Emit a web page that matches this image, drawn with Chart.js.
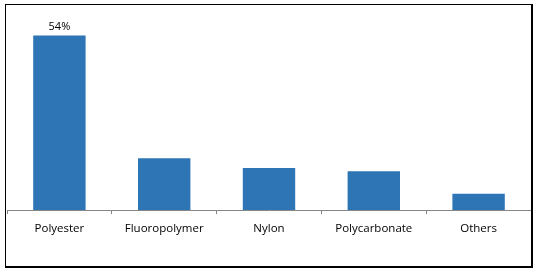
<!DOCTYPE html>
<html>
<head>
<meta charset="utf-8">
<script src="https://cdn.jsdelivr.net/npm/chart.js@4/dist/chart.umd.min.js"></script>
<style>
  html, body { margin: 0; padding: 0; background: #fff; }
  #wrap { position: relative; width: 538px; height: 272px; }
  #chart { position: absolute; left: 0; top: 0; }
  #frame {
    position: absolute; left: 5px; top: 4px; width: 525px; height: 261px;
    border-left: 1px solid #000; border-top: 1px solid #000;
    border-right: 2px solid #000; border-bottom: 2px solid #000;
    pointer-events: none;
  }
</style>
</head>
<body>
<div id="wrap">
  <canvas id="chart" width="538" height="272"></canvas>
  <div id="frame"></div>
</div>
<script>
const categories = ['Polyester', 'Fluoropolymer', 'Nylon', 'Polycarbonate', 'Others'];
const shares = [54, 16, 13, 12, 5];
const dataLabels = ['54%', '', '', '', ''];

const FONT = '"Open Sans", "DejaVu Sans", sans-serif';

// draws the single value label above the first bar
const valueLabels = {
  id: 'valueLabels',
  afterDatasetsDraw(chart) {
    const { ctx } = chart;
    const meta = chart.getDatasetMeta(0);
    ctx.save();
    ctx.font = `11px ${FONT}`;
    ctx.fillStyle = '#000';
    ctx.textAlign = 'center';
    ctx.textBaseline = 'bottom';
    meta.data.forEach((bar, i) => {
      if (!dataLabels[i]) return;
      ctx.fillText(dataLabels[i], bar.x, bar.y - 3);
    });
    ctx.restore();
  }
};

new Chart(document.getElementById('chart'), {
  type: 'bar',
  data: {
    labels: categories,
    datasets: [{
      data: shares,
      backgroundColor: '#2E75B6',
      barPercentage: 0.5,
      categoryPercentage: 1,
    }],
  },
  options: {
    responsive: false,
    animation: false,
    layout: { padding: { left: 7, right: 7, top: 16, bottom: 0 } },
    plugins: { legend: { display: false }, tooltip: { enabled: false } },
    scales: {
      x: {
        afterFit(scale) { scale.height = 62; },
        grid: {
          offset: true,
          drawOnChartArea: false,
          drawTicks: true,
          tickLength: 4,
          color: '#868686',
        },
        border: { display: true, color: '#868686', width: 1 },
        ticks: { color: '#000', font: { family: FONT, size: 11.5 }, padding: 8, maxRotation: 0 },
      },
      y: {
        display: false,
        min: 0,
        max: 60,
      },
    },
  },
  plugins: [valueLabels],
});
</script>
</body>
</html>
